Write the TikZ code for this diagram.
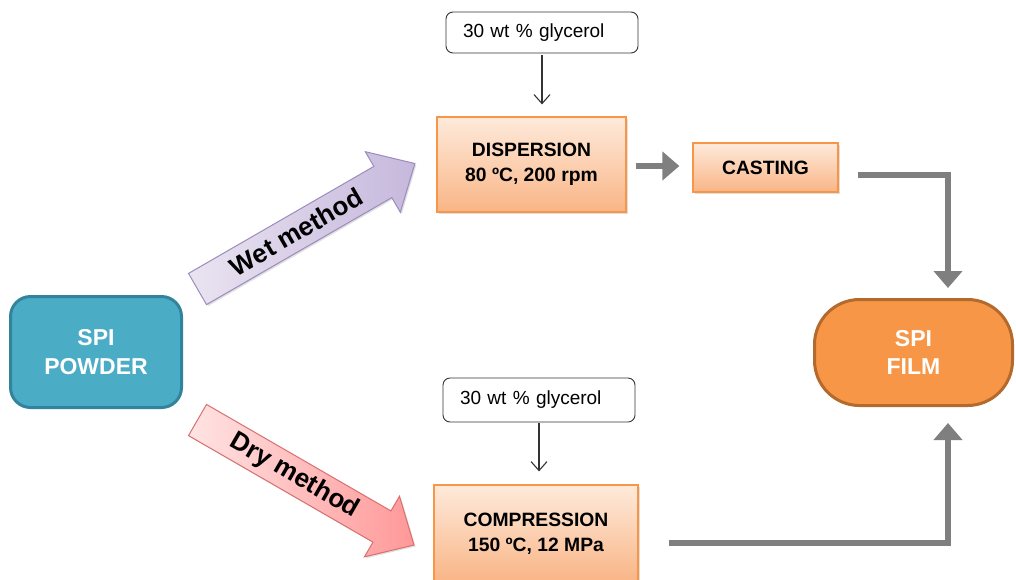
\documentclass[tikz,border=0pt]{standalone}
\usepackage{fontspec}
\setmainfont{Liberation Sans}
\usetikzlibrary{arrows.meta,shadows,calc}
\definecolor{spiblue}{HTML}{4BACC6}
\definecolor{spiblueD}{HTML}{31849B}
\definecolor{orTop}{HTML}{FEEADB}
\definecolor{orBot}{HTML}{F9B586}
\definecolor{orLine}{HTML}{F79646}
\definecolor{filmFill}{HTML}{F79646}
\definecolor{filmLine}{HTML}{B4692D}
\definecolor{arrGray}{HTML}{7F7F7F}
\definecolor{wetL}{HTML}{EAE4F1}
\definecolor{wetR}{HTML}{C6B8DC}
\definecolor{wetLine}{HTML}{9D8BBE}
\definecolor{dryL}{HTML}{FFE4E4}
\definecolor{dryR}{HTML}{FF9898}
\definecolor{dryLine}{HTML}{D9706E}
\begin{document}
\begin{tikzpicture}[x=1pt,y=-1pt,
  softshadow/.style={drop shadow={shadow xshift=1.5pt,shadow yshift=-1.5pt,opacity=0.25}},
  procbox/.style={draw=orLine, line width=1.2pt, top color=orTop, bottom color=orBot,
    font=\fontsize{19.3}{24.5}\selectfont\bfseries, align=center, inner sep=0pt, softshadow},
  glybox/.style={draw=black!80, line width=0.9pt, rounded corners=7pt, fill=white,
    font=\fontsize{19}{22}\selectfont, inner xsep=17pt, inner ysep=0pt,
    text width=158pt, align=left, minimum height=41pt},
  endbox/.style={line width=3pt, align=center, inner sep=0pt, text=white,
    font=\fontsize{23}{28.5}\selectfont\bfseries},
  thinarrow/.style={draw=black!80, line width=1.1pt, -{Straight Barb[length=9pt,width=16pt]}},
  grayarrow/.style={draw=arrGray, line width=6pt, -{Triangle[length=17pt,width=28pt]}},
  methodtext/.style={transform shape, font=\fontsize{26}{30}\selectfont\bfseries, inner sep=0pt}]
\useasboundingbox (0,0) rectangle (1016,579);
\clip (0,0) rectangle (1016,579);

% end nodes
\node[endbox, draw=spiblueD, fill=spiblue, rounded corners=20pt,
      minimum width=171pt, minimum height=111pt] (powder) at (96,352) {SPI\\POWDER};
\node[endbox, draw=filmLine, fill=filmFill, rounded corners=45pt,
      minimum width=198pt, minimum height=106pt] (film) at (913.5,352.5) {SPI\\FILM};

% process boxes
\node[procbox, minimum width=189pt, minimum height=95pt] (disp) at (531.5,164.5) {DISPERSION\\80 ºC, 200 rpm};
\node[procbox, minimum width=145pt, minimum height=49pt] (cast) at (765.5,167.5) {CASTING};
\node[procbox, minimum width=204pt, minimum height=97pt] (comp) at (536,533.5) {COMPRESSION\\150 ºC, 12 MPa};

% glycerol boxes
\node[glybox] (g1) at (542,32.5) {30 wt \% glycerol};
\node[glybox, minimum height=44pt] (g2) at (539,400) {30 wt \% glycerol};

% thin arrows
\draw[thinarrow, shorten <=2pt, shorten >=12pt] (g1.south) -- (disp.north -| g1.south);
\draw[thinarrow, shorten <=1pt, shorten >=13pt] (g2.south) -- (comp.north -| g2.south);

% wet method block arrow
\begin{scope}[shift={(197.5,289)}, rotate=30]
  \path[draw=wetLine, line width=1pt, left color=wetL, right color=wetR, softshadow]
    (0,-18) -- (214,-18) -- (214,-35) -- (251,0) -- (214,35) -- (214,18) -- (0,18) -- cycle;
  \node[methodtext] (wet) at (114,0) {Wet method};
\end{scope}

% dry method block arrow
\begin{scope}[shift={(197.5,420)}, rotate=-30]
  \path[draw=dryLine, line width=1pt, left color=dryL, right color=dryR, softshadow]
    (0,-18) -- (213,-18) -- (213,-35) -- (250,0) -- (213,35) -- (213,18) -- (0,18) -- cycle;
  \node[methodtext] (dry) at (112,0) {Dry method};
\end{scope}

% gray connectors
\draw[grayarrow] ([xshift=9pt,yshift=-1.5pt]disp.east) -- ([xshift=-13pt,yshift=1.5pt]cast.west);
\draw[grayarrow] ([xshift=19pt,yshift=-7.5pt]cast.east) -| ([xshift=34.5pt,yshift=10pt]film.north);
\draw[grayarrow] ([xshift=30pt,yshift=-9.5pt]comp.east) -| ([xshift=34.5pt,yshift=-16pt]film.south);
\end{tikzpicture}
\end{document}
